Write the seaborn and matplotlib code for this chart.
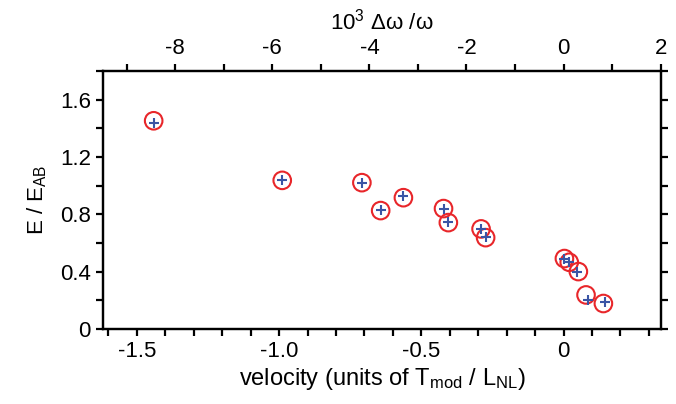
import numpy as np
import pandas as pd
import seaborn as sns
import matplotlib.pyplot as plt
from matplotlib.ticker import MultipleLocator

# measured energy (circles) and model values (pluses)
vel_circ = [-1.441, -0.989, -0.709, -0.643, -0.563, -0.422, -0.405, -0.290, -0.274, 0.003, 0.020, 0.052, 0.079, 0.140]
E_circ = [1.453, 1.037, 1.021, 0.826, 0.916, 0.840, 0.742, 0.698, 0.637, 0.491, 0.465, 0.400, 0.237, 0.177]
vel_plus = [-1.441, -0.989, -0.708, -0.643, -0.563, -0.421, -0.405, -0.290, -0.272, 0.003, 0.018, 0.046, 0.087, 0.146]
E_plus = [1.435, 1.037, 1.021, 0.830, 0.926, 0.838, 0.745, 0.698, 0.642, 0.486, 0.467, 0.400, 0.202, 0.191]

xticks = [-1.5, -1.0, -0.5, 0]
xticklabels = ["-1.5", "-1.0", "-0.5", "0"]
yticks = [0, 0.4, 0.8, 1.2, 1.6]
yticklabels = ["0", "0.4", "0.8", "1.2", "1.6"]
top_ticks = [-8, -6, -4, -2, 0, 2]
top_ticklabels = ["-8", "-6", "-4", "-2", "0", "2"]
k_top = 5.86  # 10^3 dw/w per unit velocity

sns.set_style("ticks")
plt.rcParams['font.family'] = ['Liberation Sans', 'DejaVu Sans']
plt.rcParams['mathtext.default'] = 'regular'
plt.rcParams['axes.unicode_minus'] = False
plt.rcParams['text.color'] = 'black'
plt.rcParams['axes.labelcolor'] = 'black'
plt.rcParams['xtick.color'] = 'black'
plt.rcParams['ytick.color'] = 'black'
plt.rcParams['axes.edgecolor'] = 'black'

df_c = pd.DataFrame({"v": vel_circ, "E": E_circ})
df_p = pd.DataFrame({"v": vel_plus, "E": E_plus})

fig = plt.figure(figsize=(6.76, 4.04), dpi=100)
ax = fig.add_axes([0.152, 0.186, 0.826, 0.638])

sns.scatterplot(df_c, x="v", y="E", ax=ax, marker="o", s=160,
                facecolors="none", edgecolor="#e8262a", linewidth=1.5, zorder=3)
sns.scatterplot(df_p, x="v", y="E", ax=ax, marker="+", s=55,
                color="#3a55a5", linewidth=1.5, zorder=4)

xlim = (-1.62, 0.343)
ax.set_xlim(xlim)
ax.set_ylim(0, 1.8)
ax.set_xticks(xticks, xticklabels)
ax.set_yticks(yticks, yticklabels)
ax.xaxis.set_minor_locator(MultipleLocator(0.1))
ax.yaxis.set_minor_locator(MultipleLocator(0.2))
ax.set_xlabel("velocity (units of $T_{mod}$ / $L_{NL}$)", fontsize=17, labelpad=3)
ax.set_ylabel("E / $E_{AB}$", fontsize=16, labelpad=8)

for s in ax.spines.values():
    s.set_linewidth(1.6)
    s.set_visible(True)
ax.tick_params(which="both", direction="out", length=5, width=1.6, labelsize=16,
               right=True, top=False)

ax2 = ax.twiny()
ax2.set_xlim(xlim[0] * k_top, xlim[1] * k_top)
ax2.set_xticks(top_ticks, top_ticklabels)
ax2.xaxis.set_minor_locator(MultipleLocator(1))
ax2.tick_params(which="both", direction="out", length=5, width=1.6, labelsize=16)
ax2.set_xlabel("$10^3$ Δω /ω", fontsize=16, labelpad=6)
for s in ax2.spines.values():
    s.set_linewidth(1.6)

fig.savefig("out.png", dpi=100)
